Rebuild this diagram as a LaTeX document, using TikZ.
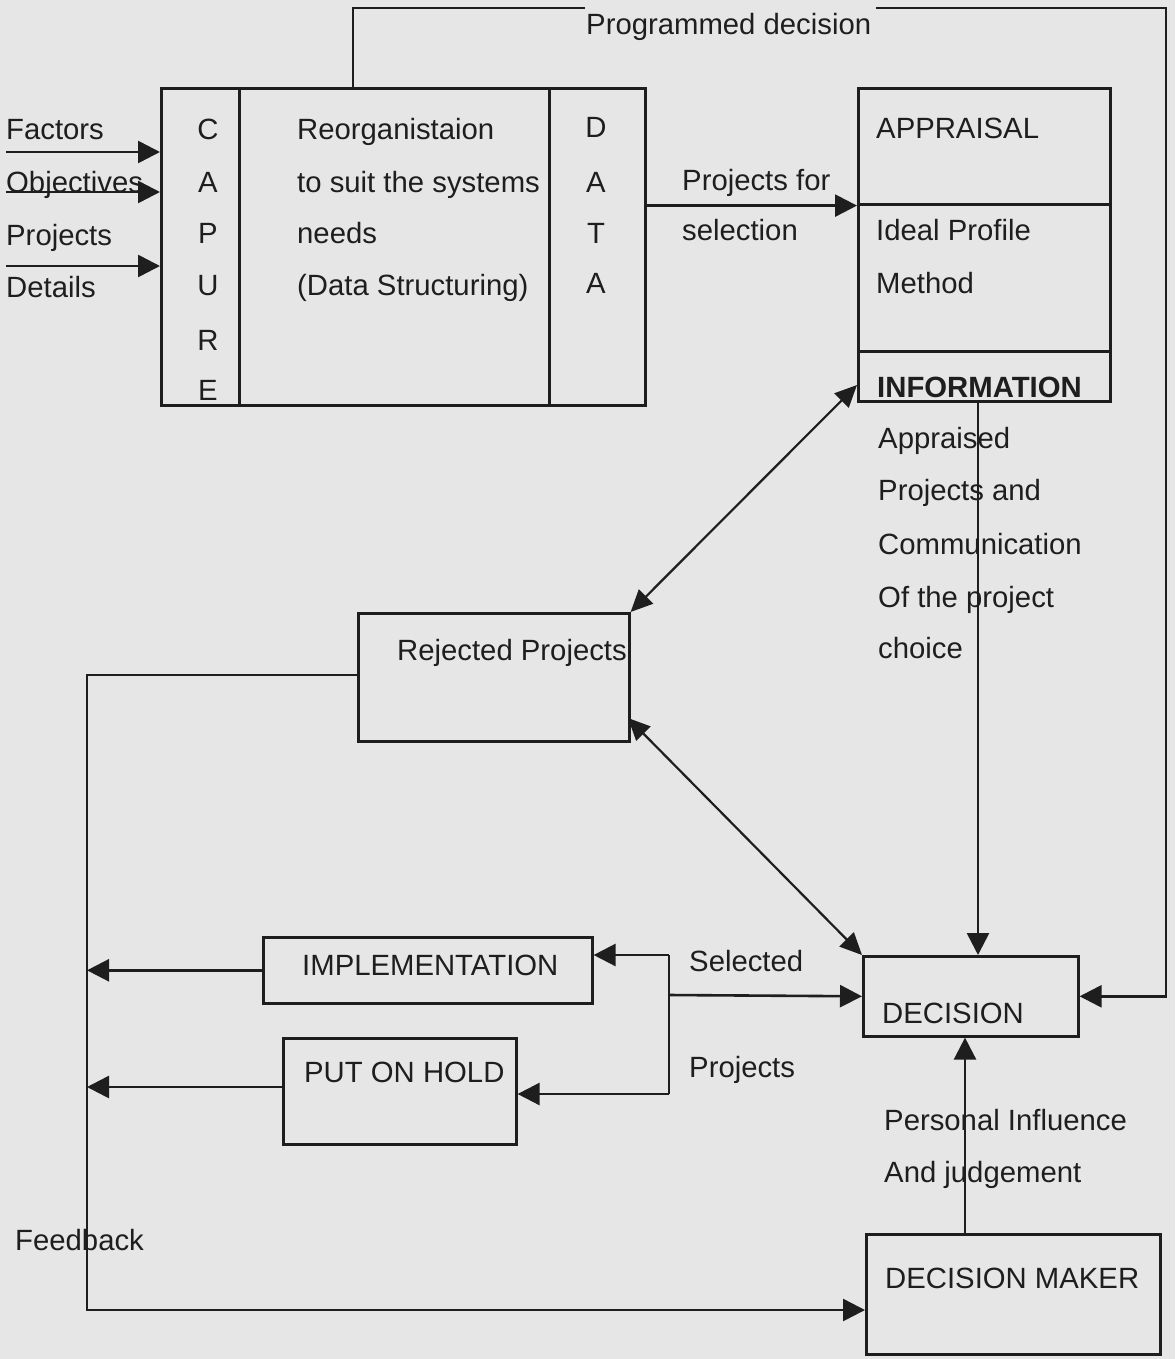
\documentclass[tikz,border=0pt]{standalone}
\usepackage{fontspec}
\setmainfont{Liberation Sans}
\usetikzlibrary{arrows.meta}
\definecolor{bg}{HTML}{E6E6E6}
\definecolor{ink}{HTML}{1E1E1E}
\begin{document}
\begin{tikzpicture}[x=1pt,y=-1pt,
  box/.style={draw=ink,line width=2.6pt,anchor=north west,inner sep=0pt},
  lbl/.style={anchor=base west,inner sep=0pt,text=ink,font=\fontsize{29.3}{34}\selectfont},
  ltr/.style={anchor=base,inner sep=0pt,text=ink,font=\fontsize{29.3}{34}\selectfont},
  ln/.style={draw=ink,line width=2.6pt},
  arr/.style={ln,-{Triangle[length=22pt,width=22pt]}},
  dbl/.style={ln,line width=2.2pt,{Triangle[length=22pt,width=20pt]}-{Triangle[length=22pt,width=20pt]}}]
\fill[bg] (0,0) rectangle (1175,1359);
\useasboundingbox (0,0) rectangle (1175,1359);

% boxes
\node[box,minimum width=78pt,minimum height=317pt] (capture) at (160,87) {};
\node[box,minimum width=310pt,minimum height=317pt] (reorg) at (238,87) {};
\node[box,minimum width=96pt,minimum height=317pt] (data) at (548,87) {};
\node[box,minimum width=252pt,minimum height=116pt] (appr) at (857,87) {};
\node[box,minimum width=252pt,minimum height=147pt] (ideal) at (857,203) {};
\node[box,minimum width=252pt,minimum height=50pt] (info) at (857,350) {};
\node[box,minimum width=271pt,minimum height=128pt] (rejected) at (357,612) {};
\node[box,minimum width=329pt,minimum height=66pt] (impl) at (262,936) {};
\node[box,minimum width=233pt,minimum height=106pt] (hold) at (282,1037) {};
\node[box,minimum width=215pt,minimum height=80pt] (decision) at (862,955) {};
\node[box,minimum width=294pt,minimum height=120pt] (dm) at (865,1233) {};

% texts
\node[lbl] (tfac) at (6,140) {Factors};
\node[lbl] (tobj) at (6,193) {Objectives};
\node[lbl] (tpro) at (6,245) {Projects};
\node[lbl] (tdet) at (6,297) {Details};
\node[ltr] (c1) at (208,140) {C};
\node[ltr] (c2) at (208,193) {A};
\node[ltr] (c3) at (208,243) {P};
\node[ltr] (c4) at (208,295) {U};
\node[ltr] (c5) at (208,350) {R};
\node[ltr] (c6) at (208,400) {E};
\node[lbl] (r1) at (297,140) {Reorganistaion};
\node[lbl] (r2) at (297,193) {to suit the systems};
\node[lbl] (r3) at (297,243) {needs};
\node[lbl] (r4) at (297,295) {(Data Structuring)};
\node[ltr] (d1) at (596,138) {D};
\node[ltr] (d2) at (596,193) {A};
\node[ltr] (d3) at (596,243) {T};
\node[ltr] (d4) at (596,293) {A};
\node[lbl] (pd) at (586,35) {Programmed decision};
\node[lbl] (pf1) at (682,190) {Projects for};
\node[lbl] (pf2) at (682,240) {selection};
\node[lbl] (a1) at (876,139) {APPRAISAL};
\node[lbl] (a2) at (876,240) {Ideal Profile};
\node[lbl] (a3) at (876,293) {Method};
\node[lbl,font=\fontsize{29.3}{34}\selectfont\bfseries] (a4) at (877,397) {INFORMATION};
\node[lbl] (i1) at (878,448) {Appraised};
\node[lbl] (i2) at (878,500) {Projects and};
\node[lbl] (i3) at (878,554) {Communication};
\node[lbl] (i4) at (878,607) {Of the project};
\node[lbl] (i5) at (878,658) {choice};
\node[lbl] (trej) at (397,660) {Rejected Projects};
\node[lbl] (timp) at (302,975) {IMPLEMENTATION};
\node[lbl] (tsel) at (689,971) {Selected};
\node[lbl] (tprj) at (689,1077) {Projects};
\node[lbl] (tdec) at (882,1023) {DECISION};
\node[lbl] (thold) at (304,1082) {PUT ON HOLD};
\node[lbl] (tpi1) at (884,1130) {Personal Influence};
\node[lbl] (tpi2) at (884,1182) {And judgement};
\node[lbl] (tdm) at (885,1288) {DECISION MAKER};
\node[lbl] (tfb) at (15,1250) {Feedback};

% coordinates
\coordinate (fa) at (6,152);
\coordinate (ob) at (6,192);
\coordinate (pr) at (6,266);
\coordinate (p1) at (353,8);
\coordinate (p2) at (585,8);
\coordinate (p3) at (876,8);
\coordinate (p4) at (1166,8);
\coordinate (dx) at (978,0);
\coordinate (ia) at (857,385);
\coordinate (ra) at (628,718);
\coordinate (b1) at (669,955);
\coordinate (bm) at (669,995);
\coordinate (b2) at (669,1094);
\coordinate (fbx) at (87,675);
\coordinate (fbb) at (87,1310);
\coordinate (mx) at (965,0);

% connectors
\draw[arr] (fa) -- (fa -| capture.west);
\draw[arr] (ob) -- (ob -| capture.west);
\draw[arr] (pr) -- (pr -| capture.west);
\draw[ln] (reorg.north -| p1) -- (p1) -- (p2);
\draw[arr] (p3) -- (p4) -- (p4 |- decision.east) -- (decision.east);
\draw[arr] (data.east |- appr.south) -- (appr.south west);
\draw[arr] (info.south -| dx) -- (decision.north -| dx);
\draw[dbl] (rejected.north east) -- (ia);
\draw[dbl] (ra) -- (decision.north west);
\draw[arr] (b1) -- (impl.east |- b1);
\draw[ln] (b1) -- (b2);
\draw[arr] (b2) -- (hold.east |- b2);
\draw[arr] (bm) -- (decision.west);
\draw[arr] (impl.west) -- (impl.west -| fbx);
\draw[arr] (hold.west |- 0,1087) -- (fbx |- 0,1087);
\draw[arr] (rejected.west |- fbx) -- (fbx) -- (fbb) -- (dm.west |- fbb);
\draw[arr] (dm.north -| mx) -- (decision.south -| mx);
\end{tikzpicture}
\end{document}
